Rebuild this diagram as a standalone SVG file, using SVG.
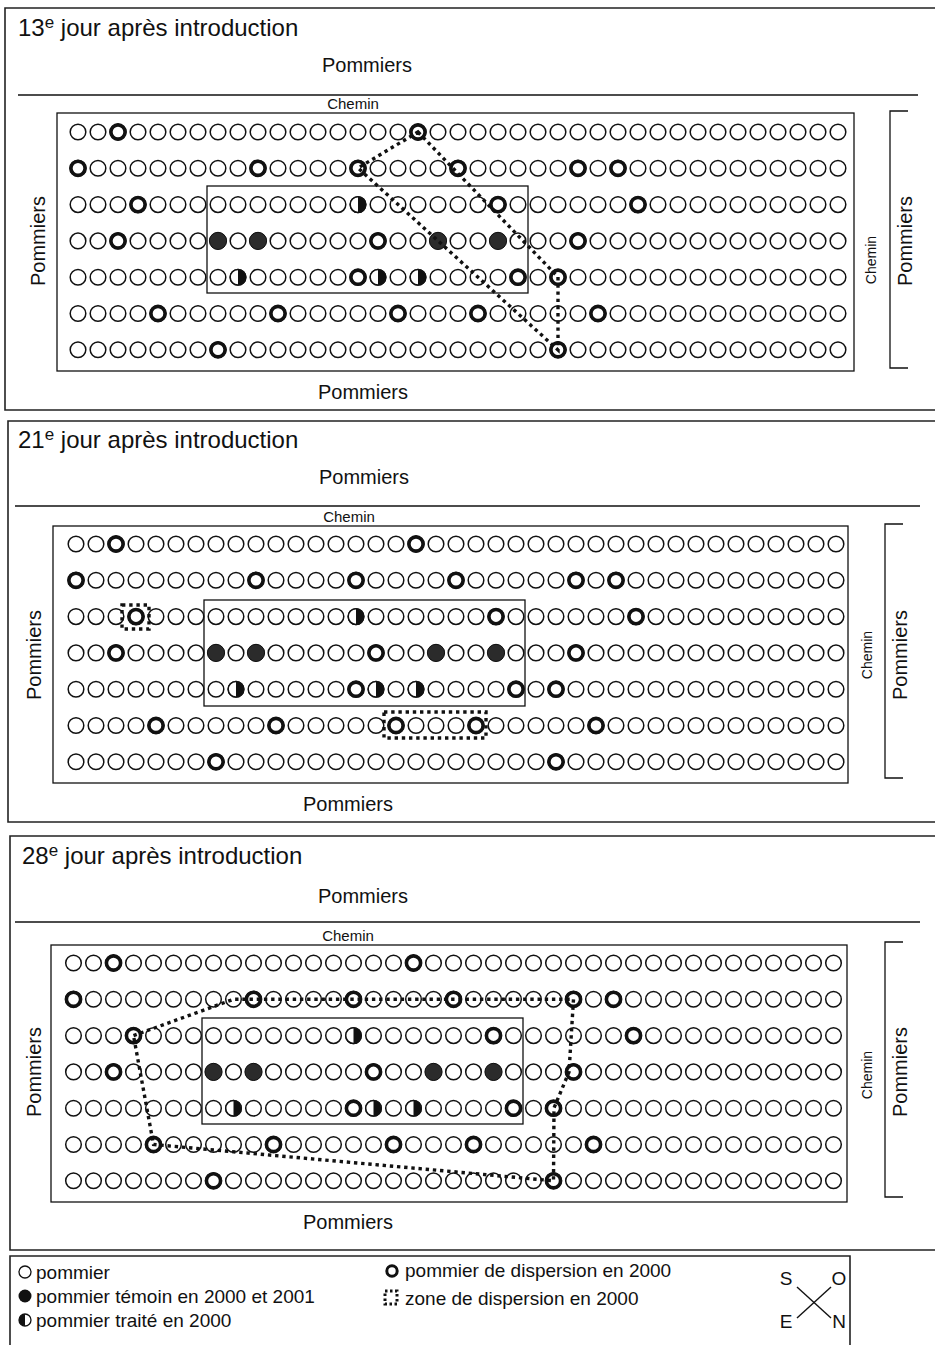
<svg xmlns="http://www.w3.org/2000/svg" xmlns:xlink="http://www.w3.org/1999/xlink" width="935" height="1345" viewBox="0 0 935 1345">
<style>
text{font-family:"Liberation Sans","DejaVu Sans",sans-serif;fill:#111}
.title{font-size:24px}
.lbl{font-size:20px}
.sm{font-size:15px}
.rs{font-size:14px}
.leg{font-size:19px}
.frame{fill:none;stroke:#222;stroke-width:1.6}
.thin{fill:none;stroke:#111;stroke-width:1.3}
.n{fill:#fff;stroke:#111;stroke-width:1.5}
.b{fill:#fff;stroke:#111;stroke-width:3.6}
.f{fill:#2b2b2b;stroke:#111;stroke-width:1}
.dot{fill:none;stroke:#111;stroke-width:3.4;stroke-dasharray:3.4 3.8}
</style>
<defs>
<circle id="n" r="7.8" class="n"/>
<circle id="b" r="7.1" class="b"/>
<circle id="f" r="8.6" class="f"/>
<g id="h"><circle r="7.8" class="n"/><path d="M0,-7.8 A7.8,7.8 0 0 1 0,7.8 Z" fill="#111"/></g>
<g id="row">
<use href="#n" x="0"/><use href="#n" x="20"/><use href="#n" x="40"/><use href="#n" x="60"/><use href="#n" x="80"/><use href="#n" x="100"/><use href="#n" x="120"/><use href="#n" x="140"/><use href="#n" x="160"/><use href="#n" x="180"/>
<use href="#n" x="200"/><use href="#n" x="220"/><use href="#n" x="240"/><use href="#n" x="260"/><use href="#n" x="280"/><use href="#n" x="300"/><use href="#n" x="320"/><use href="#n" x="340"/><use href="#n" x="360"/><use href="#n" x="380"/>
<use href="#n" x="400"/><use href="#n" x="420"/><use href="#n" x="440"/><use href="#n" x="460"/><use href="#n" x="480"/><use href="#n" x="500"/><use href="#n" x="520"/><use href="#n" x="540"/><use href="#n" x="560"/><use href="#n" x="580"/>
<use href="#n" x="600"/><use href="#n" x="620"/><use href="#n" x="640"/><use href="#n" x="660"/><use href="#n" x="680"/><use href="#n" x="700"/><use href="#n" x="720"/><use href="#n" x="740"/><use href="#n" x="760"/>
</g>
<g id="grid">
<use href="#row" y="0"/><use href="#row" y="36.3"/><use href="#row" y="72.6"/><use href="#row" y="108.9"/><use href="#row" y="145.2"/><use href="#row" y="181.5"/><use href="#row" y="217.8"/>
<use href="#b" x="40" y="0"/><use href="#b" x="340" y="0"/>
<use href="#b" x="0" y="36.3"/><use href="#b" x="180" y="36.3"/><use href="#b" x="280" y="36.3"/><use href="#b" x="380" y="36.3"/><use href="#b" x="500" y="36.3"/><use href="#b" x="540" y="36.3"/>
<use href="#b" x="60" y="72.6"/><use href="#b" x="420" y="72.6"/><use href="#b" x="560" y="72.6"/><use href="#h" x="280" y="72.6"/>
<use href="#b" x="40" y="108.9"/><use href="#b" x="300" y="108.9"/><use href="#b" x="500" y="108.9"/><use href="#f" x="140" y="108.9"/><use href="#f" x="180" y="108.9"/><use href="#f" x="360" y="108.9"/><use href="#f" x="420" y="108.9"/>
<use href="#b" x="280" y="145.2"/><use href="#b" x="440" y="145.2"/><use href="#b" x="480" y="145.2"/><use href="#h" x="160" y="145.2"/><use href="#h" x="300" y="145.2"/><use href="#h" x="340" y="145.2"/>
<use href="#b" x="80" y="181.5"/><use href="#b" x="200" y="181.5"/><use href="#b" x="320" y="181.5"/><use href="#b" x="400" y="181.5"/><use href="#b" x="520" y="181.5"/>
<use href="#b" x="140" y="217.8"/><use href="#b" x="480" y="217.8"/>
</g>
</defs>

<!-- Panel 1 -->
<g id="panel1">
<path class="frame" d="M935,8 H5 V410 H935"/>
<text class="title" x="18" y="36">13<tspan font-size="17" dy="-8">e</tspan><tspan dy="8"> jour après introduction</tspan></text>
<text class="lbl" x="367" y="72" text-anchor="middle">Pommiers</text>
<line class="thin" x1="18" y1="95" x2="918" y2="95"/>
<text class="sm" x="353" y="109" text-anchor="middle">Chemin</text>
<rect class="thin" x="57" y="113" width="797" height="258"/>
<use href="#grid" x="78" y="132"/>
<rect class="thin" x="207" y="186" width="321" height="107"/>
<text class="rs" transform="translate(876,260) rotate(-90)" text-anchor="middle">Chemin</text>
<path class="thin" d="M908,111 H890 V368 H908"/>
<text class="lbl" transform="translate(912,241) rotate(-90)" text-anchor="middle">Pommiers</text>
<text class="lbl" transform="translate(45,241) rotate(-90)" text-anchor="middle">Pommiers</text>
<text class="lbl" x="363" y="399" text-anchor="middle">Pommiers</text>
<path class="dot" d="M418,132 L558,277 L558,350 L358,168 Z"/>
</g>

<!-- Panel 2 -->
<g id="panel2">
<path class="frame" d="M935,421 H8 V822 H935"/>
<text class="title" x="18" y="448">21<tspan font-size="17" dy="-8">e</tspan><tspan dy="8"> jour après introduction</tspan></text>
<text class="lbl" x="364" y="484" text-anchor="middle">Pommiers</text>
<line class="thin" x1="15" y1="506" x2="920" y2="506"/>
<text class="sm" x="349" y="522" text-anchor="middle">Chemin</text>
<rect class="thin" x="53" y="526" width="795" height="257"/>
<use href="#grid" x="76" y="544"/>
<rect class="thin" x="204" y="600" width="321" height="106"/>
<text class="rs" transform="translate(872,655) rotate(-90)" text-anchor="middle">Chemin</text>
<path class="thin" d="M903,524 H885 V778 H903"/>
<text class="lbl" transform="translate(907,655) rotate(-90)" text-anchor="middle">Pommiers</text>
<text class="lbl" transform="translate(41,655) rotate(-90)" text-anchor="middle">Pommiers</text>
<text class="lbl" x="348" y="811" text-anchor="middle">Pommiers</text>
<rect class="dot" x="122" y="605" width="27" height="24"/>
<rect class="dot" x="384" y="712" width="102" height="26"/>
</g>

<!-- Panel 3 -->
<g id="panel3">
<path class="frame" d="M935,836 H10 V1250 H935"/>
<text class="title" x="22" y="864">28<tspan font-size="17" dy="-8">e</tspan><tspan dy="8"> jour après introduction</tspan></text>
<text class="lbl" x="363" y="903" text-anchor="middle">Pommiers</text>
<line class="thin" x1="15" y1="922" x2="920" y2="922"/>
<text class="sm" x="348" y="941" text-anchor="middle">Chemin</text>
<rect class="thin" x="51" y="945" width="796" height="257"/>
<use href="#grid" x="73.5" y="963"/>
<rect class="thin" x="202" y="1018" width="321" height="106"/>
<text class="rs" transform="translate(872,1075) rotate(-90)" text-anchor="middle">Chemin</text>
<path class="thin" d="M903,942 H885 V1197 H903"/>
<text class="lbl" transform="translate(907,1072) rotate(-90)" text-anchor="middle">Pommiers</text>
<text class="lbl" transform="translate(41,1072) rotate(-90)" text-anchor="middle">Pommiers</text>
<text class="lbl" x="348" y="1229" text-anchor="middle">Pommiers</text>
<path class="dot" d="M133.5,1035.6 L233.5,999.3 L573.5,999.3 L569,1072 L554,1108 L553.5,1180.8 L153.5,1144.5 Z"/>
</g>

<!-- Legend -->
<g id="legend">
<path class="frame" d="M10,1345 V1256 H850 V1345"/>
<circle cx="25" cy="1272" r="6" fill="#fff" stroke="#111" stroke-width="1.3"/>
<text class="leg" x="36" y="1279">pommier</text>
<circle cx="25" cy="1296" r="6.5" fill="#111"/>
<text class="leg" x="36" y="1303">pommier témoin en 2000 et 2001</text>
<circle cx="25" cy="1320" r="6" fill="#fff" stroke="#111" stroke-width="1.3"/>
<path d="M25,1314 A6,6 0 0 0 25,1326 Z" fill="#111"/>
<text class="leg" x="36" y="1327">pommier traité en 2000</text>
<circle cx="392" cy="1271" r="5.2" fill="#fff" stroke="#111" stroke-width="3"/>
<text class="leg" x="405" y="1277">pommier de dispersion en 2000</text>
<rect x="385" y="1291" width="12" height="13" fill="none" stroke="#111" stroke-width="3" stroke-dasharray="2.5 2.5"/>
<text class="leg" x="405" y="1305">zone de dispersion en 2000</text>
<text class="leg" x="786" y="1285" text-anchor="middle">S</text>
<text class="leg" x="839" y="1285" text-anchor="middle">O</text>
<text class="leg" x="786" y="1328" text-anchor="middle">E</text>
<text class="leg" x="839" y="1328" text-anchor="middle">N</text>
<line x1="797" y1="1287" x2="831" y2="1318" stroke="#111" stroke-width="1.4"/>
<line x1="831" y1="1287" x2="797" y2="1318" stroke="#111" stroke-width="1.4"/>
</g>
</svg>
